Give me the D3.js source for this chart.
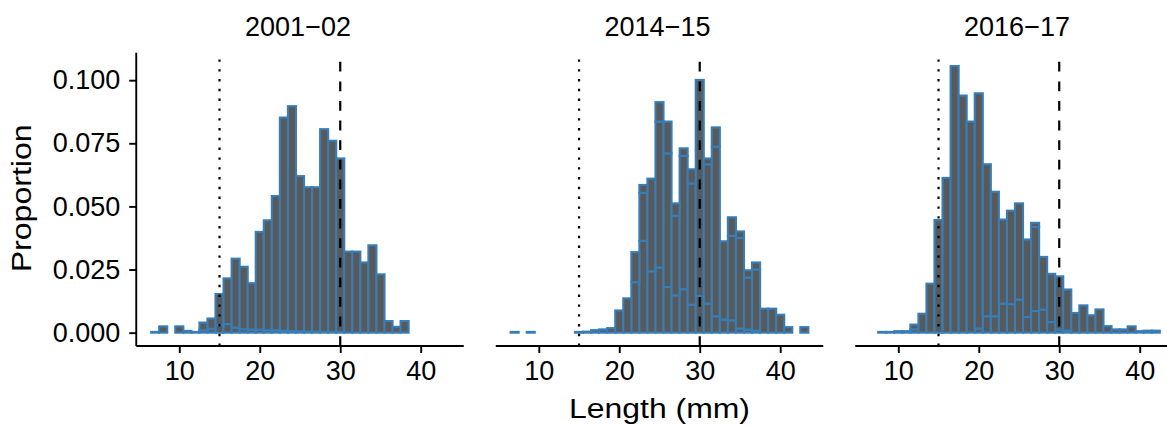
<!DOCTYPE html>
<html>
<head>
<meta charset="utf-8">
<script src="https://cdnjs.cloudflare.com/ajax/libs/d3/7.8.5/d3.min.js"></script>
<style>
  html, body { margin: 0; padding: 0; background: #fff; }
  svg { display: block; }
  text { font-family: "Liberation Sans", Arial, Helvetica, sans-serif; fill: #000; }
</style>
</head>
<body>
<svg id="chart" width="1167" height="427"></svg>
<script>
// ---------------- data ----------------
const panels = ["2001\u221202", "2014\u221215", "2016\u221217"];
const bins = [7,8,9,10,11,12,13,14,15,16,17,18,19,20,21,22,23,24,25,26,27,28,29,30,31,32,33,34,35,36,37,38,39,40,41,42,43];
const xTicks = [10, 20, 30, 40];
const yTicks = [0, 0.025, 0.05, 0.075, 0.1];
const yTickLabels = ["0.000", "0.025", "0.050", "0.075", "0.100"];
const refLines = [15, 30];

// stacked proportions per bin (bottom / middle / top group)
const s2001A = [0,0,0,0,0,0,0.001,0.0015,0.003,0.0034,0.002,0.0014,0.0012,0.0012,0.001,0.001,0.0008,0.0006,0.0005,0.0004,0.0004,0.0003,0.0003,0.0003,0,0,0,0,0,0,0,0,0,0,0,0,0];
const s2001B = [0.0003,0.0025,0,0.0025,0.0007,0.0003,0.003,0.0041,0.0123,0.0181,0.0273,0.0247,0.0184,0.0387,0.0435,0.0531,0.0844,0.0891,0.0615,0.0572,0.0572,0.0803,0.0757,0.0687,0.0321,0.0321,0.0278,0.0346,0.0231,0.0046,0.0023,0.0046,0,0,0,0,0];
const s2001C = [0,0,0,0,0,0,0,0,0,0,0,0,0,0,0,0,0,0,0,0,0,0,0,0,0,0,0,0,0,0,0,0,0,0,0,0,0];

const s2014A = [0,0,0,0,0,0,0,0,0,0,0,0,0,0,0,0.020,0.0364,0.0243,0.0258,0.0181,0.0148,0.0172,0.0111,0.0145,0.0115,0.0065,0.0052,0.0049,0.0016,0.0012,0.0008,0,0,0,0,0,0];
const s2014B = [0.0003,0,0.0003,0,0,0,0,0,0.0003,0.0004,0.001,0.0013,0.0018,0.0088,0.0136,0.0119,0.019,0.0367,0.0578,0.0529,0.0315,0.0528,0.048,0.0856,0.0552,0.0672,0.031,0.0334,0.0359,0.0206,0.0242,0.0095,0.0095,0.0071,0.0022,0,0.0022];
const s2014C = [0,0,0,0,0,0,0,0,0,0,0,0,0,0,0,0,0.0031,0,0.0077,0.0126,0.0049,0.003,0.0056,0,0.0023,0.0076,0,0.0074,0.0026,0.0029,0.0028,0,0,0,0,0,0];

const s2016A = [0,0,0,0,0,0.0013,0,0,0,0,0,0,0,0.0016,0.0065,0.0065,0.0115,0.0113,0.0131,0.0062,0.0086,0.0091,0.0042,0.0013,0.0008,0,0,0,0,0,0,0,0,0,0,0,0];
const s2016B = [0,0.0003,0.0003,0.0006,0.0006,0.0019,0.0075,0.0194,0.0446,0.0613,0.1056,0.0939,0.0836,0.0932,0.0602,0.0493,0.0333,0.037,0.0381,0.0307,0.0333,0.0209,0.0191,0.021,0.0163,0.0078,0.0108,0.0069,0.0092,0.0026,0.0013,0.0013,0.0025,0.0006,0.0008,0.0008,0];
const s2016C = [0,0,0,0,0,0,0,0,0,0,0,0,0,0,0,0,0,0,0,0,0.0016,0,0,0,0,0,0,0,0,0,0,0,0,0,0,0,0];

const panelSeries = [
  [s2001A, s2001B, s2001C],
  [s2014A, s2014B, s2014C],
  [s2016A, s2016B, s2016C]
];

// ---------------- layout ----------------
const panelLeft = 136.25, panelW = 327.5, panelGap = 32;
const panelTop = 52.7, panelBottom = 346;
const fillCol = "#595959", strokeCol = "#377EB8";
const tickFont = 27;

const svg = d3.select("#chart");

const keys = ["A", "B", "C"];
const rowsPerPanel = panelSeries.map(ser => bins.map((b, i) => ({ bin: b, A: ser[0][i], B: ser[1][i], C: ser[2][i] })));
const totals = rowsPerPanel.flat().map(r => r.A + r.B + r.C);
const ymax = d3.max(totals);
const binExt = [d3.min(bins) - 0.5, d3.max(bins) + 0.5];
const xSpan = binExt[1] - binExt[0];

const y = d3.scaleLinear()
  .domain([-0.05 * ymax, ymax * 1.05])
  .range([panelBottom, panelTop]);

const stack = d3.stack().keys(keys);

panels.forEach((title, p) => {
  const x0 = panelLeft + p * (panelW + panelGap);
  const x = d3.scaleLinear()
    .domain([binExt[0] - 0.05 * xSpan, binExt[1] + 0.05 * xSpan])
    .range([x0, x0 + panelW]);

  const g = svg.append("g");
  const layers = stack(rowsPerPanel[p]);

  layers.forEach(layer => {
    g.append("g").selectAll("rect")
      .data(layer.filter(d => d[1] - d[0] > 0))
      .join("rect")
      .attr("x", d => x(d.data.bin - 0.5))
      .attr("width", d => x(d.data.bin + 0.5) - x(d.data.bin - 0.5))
      .attr("y", d => y(d[1]))
      .attr("height", d => y(d[0]) - y(d[1]))
      .attr("fill", fillCol)
      .attr("stroke", strokeCol)
      .attr("stroke-width", 2.1);
  });

  // reference lines
  refLines.forEach((v, i) => {
    g.append("line")
      .attr("x1", x(v)).attr("x2", x(v))
      .attr("y1", panelBottom).attr("y2", panelTop)
      .attr("stroke", "#000")
      .attr("stroke-width", 2.2)
      .attr("stroke-dasharray", i === 0 ? "2.4,7.4" : "9.8,9.8");
  });

  // x axis
  const xAxis = d3.axisBottom(x).tickValues(xTicks).tickSize(7).tickPadding(8).tickSizeOuter(0);
  const ax = g.append("g").attr("transform", `translate(0,${panelBottom})`).call(xAxis);
  ax.select(".domain").attr("stroke", "#000").attr("stroke-width", 1.9).attr("d", `M${x0},0H${x0 + panelW}`);
  ax.selectAll(".tick line").attr("stroke", "#000").attr("stroke-width", 1.9);
  ax.selectAll(".tick text").attr("font-size", tickFont).attr("font-family", "Liberation Sans, Arial, sans-serif").attr("fill", "#000");

  // y axis only on first panel
  if (p === 0) {
    const yAxis = d3.axisLeft(y).tickValues(yTicks).tickFormat((d, i) => yTickLabels[i]).tickSize(7).tickPadding(9).tickSizeOuter(0);
    const ay = g.append("g").attr("transform", `translate(${x0},0)`).call(yAxis);
    ay.select(".domain").attr("stroke", "#000").attr("stroke-width", 1.9).attr("d", `M0,${panelTop}V${panelBottom}`);
    ay.selectAll(".tick line").attr("stroke", "#000").attr("stroke-width", 1.9);
    ay.selectAll(".tick text").attr("font-size", tickFont).attr("font-family", "Liberation Sans, Arial, sans-serif").attr("fill", "#000");
  }

  // strip title
  g.append("text")
    .attr("x", x0 + panelW / 2 - 2)
    .attr("y", 35.5)
    .attr("text-anchor", "middle")
    .attr("font-size", 27)
    .text(title);
});

// axis titles
const plotLeft = panelLeft, plotRight = panelLeft + 3 * panelW + 2 * panelGap;
svg.append("text")
  .attr("x", (plotLeft + plotRight) / 2)
  .attr("y", 418.3)
  .attr("text-anchor", "middle")
  .attr("font-size", 27)
  .attr("textLength", 181)
  .attr("lengthAdjust", "spacingAndGlyphs")
  .text("Length (mm)");

svg.append("text")
  .attr("transform", `translate(31,${(panelTop + panelBottom) / 2 - 1}) rotate(-90)`)
  .attr("text-anchor", "middle")
  .attr("font-size", 27)
  .attr("textLength", 148)
  .attr("lengthAdjust", "spacingAndGlyphs")
  .text("Proportion");
</script>
</body>
</html>
